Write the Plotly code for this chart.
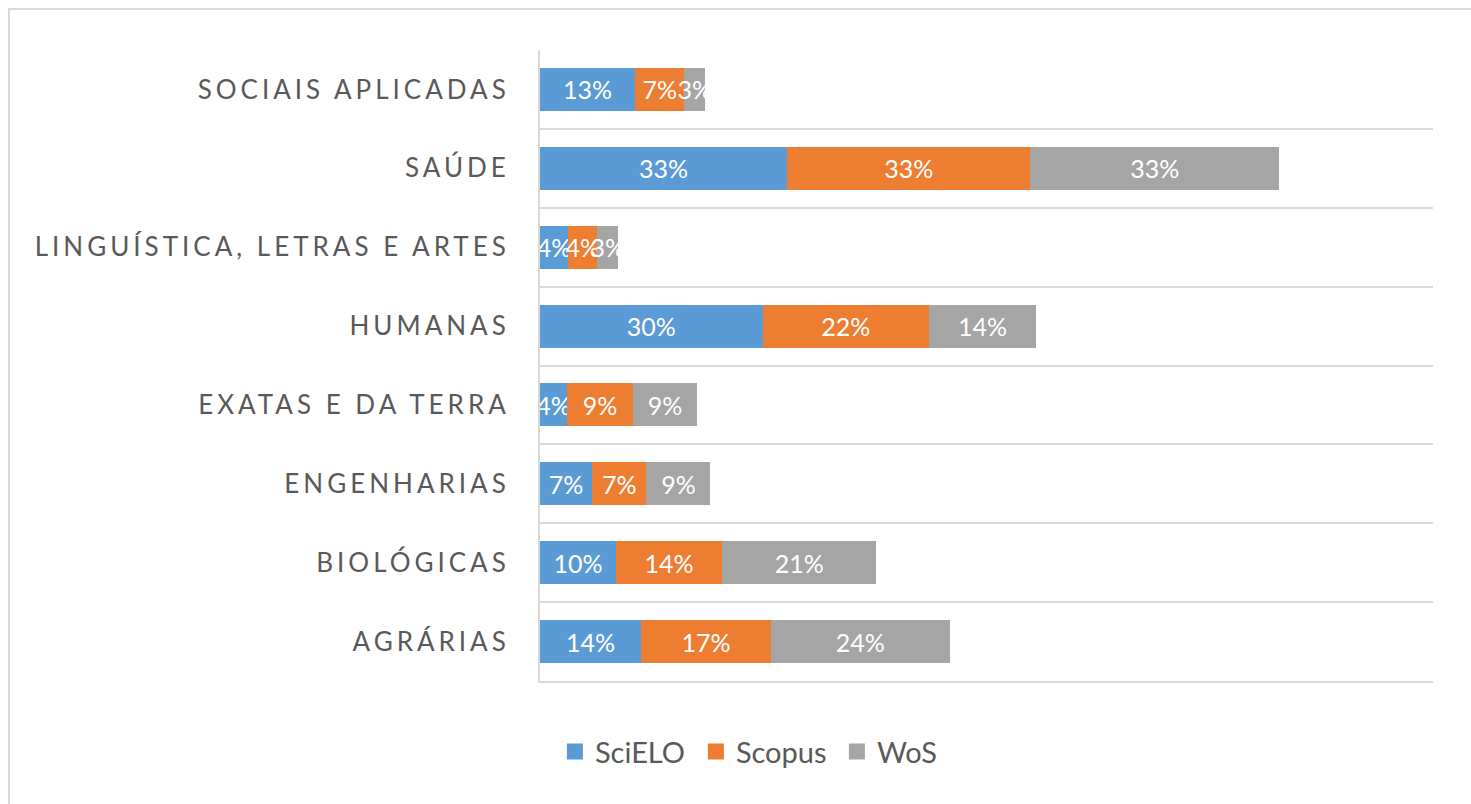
import plotly.graph_objects as go

categories = ["AGRÁRIAS", "BIOLÓGICAS", "ENGENHARIAS", "EXATAS E DA TERRA",
              "HUMANAS", "LINGUÍSTICA, LETRAS E ARTES", "SAÚDE", "SOCIAIS APLICADAS"]
scielo = [0.136, 0.102, 0.070, 0.036, 0.299, 0.038, 0.332, 0.128]
scopus = [0.174, 0.143, 0.073, 0.089, 0.224, 0.039, 0.327, 0.066]
wos = [0.241, 0.207, 0.086, 0.086, 0.143, 0.028, 0.334, 0.028]
series_names = ["SciELO", "Scopus", "WoS"]
colors = ["#5B9BD5", "#ED7D31", "#A5A5A5"]

W, H = 1471, 804
ML, MR, MT, MB = 540, 38, 50, 123
FONT = "Lato, 'Open Sans', sans-serif"

fig = go.Figure()
for name, vals, col in zip(series_names, [scielo, scopus, wos], colors):
    fig.add_trace(go.Bar(
        y=categories, x=vals, name=name, orientation="h",
        marker=dict(color=col, line=dict(width=0)),
        texttemplate="%{x:.0%}", textposition="inside",
        insidetextanchor="middle", textangle=0, constraintext="none",
        textfont=dict(family=FONT, size=25, color="white"),
        cliponaxis=False, showlegend=False, hoverinfo="skip",
    ))
for name, col in zip(series_names, colors):
    fig.add_trace(go.Scatter(
        x=[None], y=[None], mode="markers", name=name,
        marker=dict(symbol="square", size=20, color=col),
    ))

fig.update_layout(
    width=W, height=H, barmode="stack", bargap=0.456,
    margin=dict(l=ML, r=MR, t=MT, b=MB, autoexpand=False),
    paper_bgcolor="white", plot_bgcolor="white",
    font=dict(family=FONT, color="#595959"),
    showlegend=True,
    legend=dict(orientation="h", xref="container", yref="container",
                x=0.521, xanchor="center", y=0.065, yanchor="middle",
                font=dict(family=FONT, size=29, color="#595959"),
                traceorder="normal", itemwidth=30, entrywidth=96),
    xaxis=dict(range=[0, 1.2], showticklabels=False, showgrid=False,
               zeroline=False, showline=True, linecolor="#D9D9D9", linewidth=2,
               fixedrange=True),
    yaxis=dict(type="category", categoryorder="array", categoryarray=categories,
               tickson="boundaries", ticks="",
               showgrid=True, gridcolor="#D9D9D9", gridwidth=2,
               showline=True, linecolor="#D9D9D9", linewidth=2,
               range=[-0.5, len(categories) - 0.5],
               tickfont=dict(family=FONT, size=26, color="#595959"),
               ticklabelstandoff=23, automargin=False),
    shapes=[dict(type="rect", xref="paper", yref="paper",
                 x0=(9 - ML) / (W - ML - MR), x1=(1490 - ML) / (W - ML - MR),
                 y0=-(820 - (H - MB)) / (H - MT - MB), y1=1 + (MT - 9) / (H - MT - MB),
                 line=dict(color="#D9D9D9", width=2), layer="below")],
)

post = ("document.body.style.margin='0';"
        "document.documentElement.style.overflow='hidden';"
        "var s=document.createElement('style');"
        "s.textContent='.ytick text{letter-spacing:4px}';"
        "document.head.appendChild(s);")
fig.write_html("out.html", post_script=post, config={"displayModeBar": False})
